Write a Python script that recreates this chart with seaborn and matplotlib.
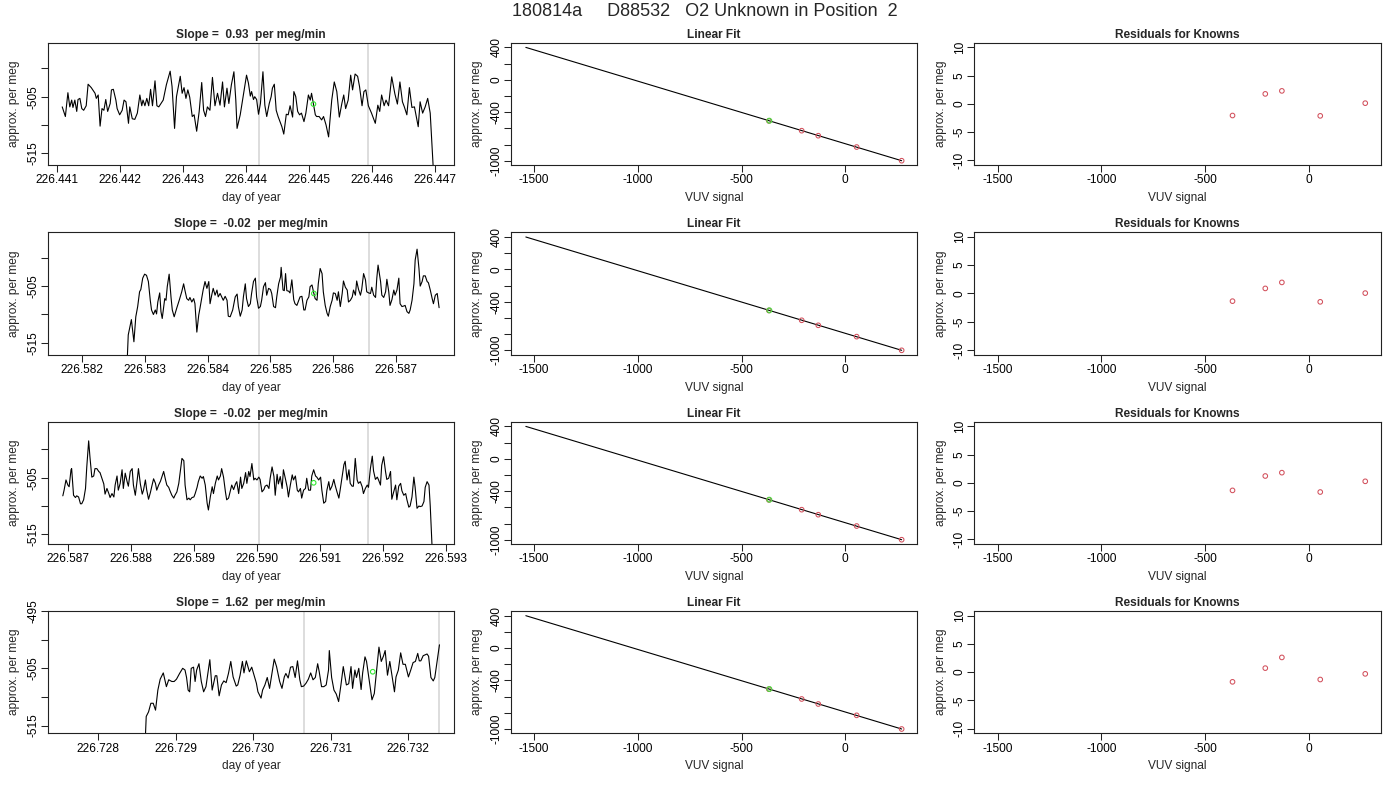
import numpy as np
import matplotlib
matplotlib.use("Agg")
import matplotlib.pyplot as plt
import seaborn as sns
from matplotlib.ticker import MultipleLocator, FixedLocator, FuncFormatter, FormatStrFormatter

# ---- time series panels: time given as offset from a base day, in 1e-5 day ----
ts1_base = 226.441
ts1_dt = [
    9, 14, 18, 21, 24, 26, 29, 32, 34, 37,
    40, 43, 47, 50, 55, 61, 63, 66, 69, 72,
    75, 78, 81, 85, 87, 90, 94, 96, 100, 104,
    107, 110, 114, 116, 120, 124, 128, 132, 135, 137,
    140, 143, 146, 149, 152, 156, 159, 162, 169, 174,
    180, 183, 187, 190, 196, 199, 202, 205, 208, 211,
    215, 218, 222, 226, 230, 233, 236, 239, 243, 247,
    251, 255, 259, 263, 266, 270, 273, 277, 281, 284,
    286, 291, 293, 298, 301, 304, 307, 309, 312, 314,
    317, 320, 323, 327, 330, 333, 337, 340, 342, 345,
    348, 351, 357, 360, 364, 367, 370, 374, 376, 379,
    382, 385, 388, 392, 395, 399, 402, 404, 407, 410,
    412, 416, 420, 423, 427, 431, 433, 436, 440, 444,
    448, 452, 455, 458, 462, 466, 469, 473, 477, 480,
    484, 487, 490, 494, 499, 505, 509, 512, 515, 519,
    522, 526, 531, 536, 540, 544, 548, 551, 555, 559,
    563, 567, 573, 576, 580, 584, 588, 592, 598]
ts1_val = [
    -506.8, -508.5, -504.3, -506.8, -505.6, -506.9, -505.6, -507.6, -505.5, -505.3,
    -507.1, -507.4, -506.6, -502.8, -503.4, -504.4, -505.3, -504.7, -510.2, -507.1,
    -507.4, -505.5, -507.6, -506.2, -503.8, -503.7, -505.6, -507.1, -508.2, -507.4,
    -505.6, -505.9, -509.7, -506.8, -508.9, -509.0, -507.9, -504.7, -506.6, -505.6,
    -506.6, -505.3, -506.6, -503.7, -506.6, -502.2, -506.6, -506.8, -505.6, -502.9,
    -500.5, -503.2, -510.6, -505.0, -501.4, -504.4, -503.4, -505.3, -503.8, -505.1,
    -508.5, -508.2, -511.1, -507.6, -502.5, -507.4, -508.5, -506.8, -507.4, -501.6,
    -506.6, -504.4, -506.5, -502.4, -506.8, -503.5, -506.2, -502.9, -500.6, -505.6,
    -510.6, -508.2, -506.8, -503.2, -501.2, -502.6, -504.9, -504.1, -505.5, -505.0,
    -505.5, -508.1, -506.2, -500.6, -506.5, -508.5, -506.2, -505.0, -503.5, -502.8,
    -507.4, -508.5, -510.3, -511.6, -508.1, -508.2, -506.6, -508.6, -504.1, -505.0,
    -507.6, -508.2, -507.9, -509.4, -507.9, -504.7, -505.6, -504.4, -506.3, -508.2,
    -508.5, -508.5, -509.1, -508.5, -510.0, -512.1, -509.4, -505.6, -502.4, -504.1,
    -508.6, -506.2, -504.7, -507.1, -505.6, -501.2, -503.8, -501.0, -501.4, -503.2,
    -506.6, -504.1, -503.8, -506.6, -507.9, -509.7, -506.5, -507.6, -504.7, -506.6,
    -505.6, -506.6, -501.5, -504.5, -506.3, -502.4, -505.9, -506.8, -508.2, -503.4,
    -506.9, -506.8, -510.3, -505.9, -507.9, -506.8, -505.3, -507.9, -520.0]

ts2_base = 226.582
ts2_dt = [
    72, 74, 79, 83, 86, 89, 92, 94, 97, 100,
    103, 106, 109, 111, 114, 117, 119, 121, 124, 126,
    128, 132, 134, 136, 139, 142, 144, 147, 151, 155,
    159, 162, 164, 167, 170, 172, 175, 178, 180, 183,
    186, 188, 193, 196, 199, 202, 204, 207, 209, 212,
    215, 217, 220, 223, 225, 228, 231, 233, 236, 240,
    244, 247, 249, 252, 255, 257, 260, 262, 265, 268,
    270, 273, 276, 278, 281, 284, 286, 289, 292, 294,
    297, 300, 302, 305, 308, 310, 313, 316, 317, 320,
    322, 324, 326, 329, 331, 334, 337, 339, 342, 345,
    347, 350, 353, 355, 358, 361, 363, 366, 369, 371,
    374, 376, 379, 382, 384, 387, 390, 392, 395, 398,
    400, 403, 406, 408, 411, 414, 416, 419, 422, 424,
    427, 430, 432, 435, 437, 440, 443, 445, 448, 451,
    453, 456, 459, 461, 464, 467, 469, 471, 475, 477,
    480, 483, 485, 488, 490, 493, 496, 498, 501, 504,
    506, 509, 512, 514, 517, 520, 522, 525, 528, 530,
    533, 536, 538, 541, 543, 546, 549, 551, 554, 557,
    559, 562, 565, 568]
ts2_val = [
    -519.0, -513.6, -510.9, -514.8, -510.4, -508.6, -506.0, -505.6, -503.6, -502.9,
    -503.1, -504.2, -507.5, -509.2, -510.0, -509.2, -509.9, -507.8, -506.2, -509.5,
    -510.7, -507.2, -507.5, -505.1, -502.9, -507.0, -509.2, -510.4, -508.9, -507.5,
    -506.0, -504.6, -505.7, -507.2, -507.5, -507.0, -507.8, -507.2, -508.1, -513.1,
    -510.1, -508.9, -505.7, -504.2, -505.4, -504.2, -508.1, -506.4, -505.4, -506.6,
    -505.7, -506.9, -506.3, -507.0, -507.5, -506.8, -507.5, -510.3, -510.4, -509.2,
    -506.9, -506.4, -508.6, -510.3, -509.2, -506.9, -504.6, -507.2, -508.6, -508.1,
    -506.3, -504.2, -503.6, -506.9, -508.9, -508.6, -507.5, -505.1, -504.4, -506.6,
    -505.4, -505.6, -506.3, -508.6, -508.8, -506.9, -504.6, -503.4, -501.7, -505.7,
    -505.8, -502.8, -505.8, -505.9, -506.2, -503.9, -507.4, -508.1, -508.4, -507.5,
    -506.9, -506.8, -509.2, -509.2, -507.5, -506.9, -505.1, -504.8, -506.3, -507.2,
    -507.5, -504.6, -501.9, -502.8, -506.0, -508.4, -509.8, -510.3, -508.6, -507.5,
    -506.2, -506.3, -507.5, -506.0, -508.6, -506.3, -504.1, -505.2, -505.7, -507.8,
    -507.5, -506.9, -505.7, -506.6, -504.1, -505.6, -506.6, -505.6, -502.8, -503.9,
    -506.0, -506.2, -506.3, -505.2, -506.6, -507.0, -503.6, -501.3, -504.2, -506.6,
    -507.0, -506.0, -503.8, -506.0, -508.4, -507.4, -505.7, -506.6, -505.7, -503.6,
    -508.1, -508.6, -508.5, -508.4, -509.5, -509.8, -509.2, -507.5, -504.6, -500.4,
    -498.5, -501.9, -505.0, -504.2, -503.2, -503.2, -504.2, -504.4, -505.7, -507.2,
    -508.1, -506.6, -506.3, -508.8]

ts3_base = 226.587
ts3_dt = [
    -8, -6, -3, 0, 2, 5, 6, 9, 12, 14,
    17, 20, 22, 25, 28, 30, 33, 35, 38, 41,
    43, 46, 49, 51, 54, 57, 59, 62, 65, 67,
    70, 73, 75, 78, 80, 83, 86, 88, 91, 94,
    96, 99, 102, 104, 107, 110, 112, 115, 118, 120,
    123, 125, 128, 131, 133, 136, 139, 141, 144, 147,
    149, 152, 155, 157, 160, 162, 165, 168, 170, 173,
    176, 178, 181, 184, 186, 189, 192, 194, 197, 200,
    202, 205, 207, 210, 213, 215, 218, 221, 223, 226,
    229, 231, 234, 237, 239, 242, 244, 247, 250, 252,
    255, 258, 260, 263, 266, 268, 271, 274, 276, 279,
    282, 284, 287, 289, 292, 295, 297, 300, 303, 305,
    308, 311, 313, 316, 319, 321, 324, 327, 329, 332,
    334, 337, 340, 342, 345, 348, 350, 353, 356, 358,
    361, 364, 366, 369, 371, 374, 377, 379, 382, 385,
    387, 390, 393, 395, 398, 401, 403, 406, 409, 411,
    414, 416, 419, 422, 424, 427, 430, 432, 435, 438,
    440, 443, 446, 448, 451, 453, 456, 459, 461, 464,
    467, 469, 472, 475, 477, 480, 483, 485, 488, 491,
    493, 496, 498, 501, 504, 506, 509, 512, 514, 517,
    520, 522, 525, 528, 530, 533, 536, 538, 541, 543,
    546, 549, 551, 554, 557, 559, 562, 565, 567, 570,
    573, 575, 579]
ts3_val = [
    -508.2, -507.2, -505.4, -506.3, -506.6, -503.6, -503.4, -508.1, -508.5, -508.2,
    -508.4, -509.6, -509.6, -508.9, -506.9, -503.1, -498.5, -501.3, -504.9, -504.7,
    -503.4, -503.4, -503.9, -504.1, -505.1, -506.1, -507.9, -506.9, -507.8, -508.5,
    -507.8, -508.4, -506.3, -504.7, -507.2, -506.0, -503.6, -506.9, -504.2, -505.7,
    -506.5, -503.9, -503.4, -506.3, -508.1, -505.4, -503.4, -506.1, -507.9, -507.2,
    -505.4, -507.1, -508.8, -507.6, -506.6, -505.2, -506.0, -507.2, -506.3, -505.6,
    -504.9, -503.9, -505.4, -506.3, -506.7, -507.3, -508.1, -508.6, -508.1, -507.5,
    -506.0, -504.2, -501.6, -502.0, -506.3, -508.9, -508.6, -508.9, -508.5, -508.4,
    -507.8, -506.7, -505.7, -504.7, -505.1, -504.8, -506.3, -509.5, -510.7, -508.4,
    -506.6, -507.8, -506.0, -504.7, -505.4, -504.7, -503.4, -504.9, -507.5, -508.9,
    -508.6, -507.2, -506.3, -507.1, -506.1, -505.7, -507.8, -504.9, -506.9, -506.0,
    -504.1, -506.0, -503.9, -504.8, -502.5, -505.4, -505.1, -505.4, -504.9, -505.3,
    -507.5, -507.1, -506.5, -506.3, -506.9, -505.1, -503.1, -504.8, -508.1, -504.4,
    -506.1, -504.8, -506.9, -503.6, -505.1, -506.7, -508.4, -506.3, -504.5, -505.4,
    -504.7, -507.2, -507.5, -506.9, -508.6, -507.2, -506.9, -505.1, -507.2, -507.2,
    -504.7, -503.6, -504.7, -504.9, -505.4, -504.9, -507.2, -509.5, -509.2, -507.2,
    -505.7, -507.2, -506.5, -505.3, -506.3, -507.5, -508.6, -507.2, -504.9, -502.7,
    -502.1, -505.4, -503.6, -506.0, -506.5, -506.5, -501.6, -505.4, -506.0, -505.7,
    -506.6, -507.8, -506.9, -506.3, -506.7, -503.4, -501.2, -503.8, -505.3, -504.9,
    -505.4, -506.3, -502.8, -501.3, -503.9, -505.3, -505.1, -503.9, -508.8, -507.5,
    -506.3, -508.9, -506.5, -506.0, -507.3, -508.1, -507.8, -508.9, -510.2, -510.0,
    -508.4, -504.9, -506.7, -510.4, -510.0, -510.1, -510.0, -509.2, -506.7, -505.7,
    -506.3, -510.0, -520.0]

ts4_base = 226.728
ts4_dt = [
    60, 62, 65, 68, 71, 74, 77, 80, 84, 86,
    88, 91, 95, 98, 101, 105, 109, 112, 114, 116,
    118, 120, 123, 125, 127, 130, 133, 136, 139, 141,
    144, 147, 151, 153, 156, 159, 162, 165, 168, 171,
    174, 178, 180, 183, 186, 188, 191, 195, 198, 201,
    204, 206, 210, 212, 215, 218, 221, 224, 227, 230,
    234, 237, 240, 242, 245, 248, 251, 254, 257, 260,
    262, 265, 268, 271, 274, 277, 280, 283, 285, 288,
    291, 294, 297, 298, 301, 304, 307, 310, 313, 316,
    318, 320, 323, 326, 328, 331, 333, 336, 339, 341,
    344, 346, 350, 353, 356, 359, 362, 365, 368, 370,
    373, 376, 379, 382, 384, 387, 390, 393, 396, 400,
    403, 406, 409, 412, 414, 416, 419, 424, 426, 429,
    432, 434, 437, 440]
ts4_val = [
    -520.0, -513.4, -512.6, -511.1, -511.1, -512.3, -508.8, -506.9, -505.8, -507.0,
    -508.2, -507.0, -507.3, -507.3, -506.9, -505.9, -505.0, -505.3, -506.6, -508.8,
    -509.1, -505.0, -504.8, -507.3, -505.3, -504.2, -507.3, -509.1, -508.2, -506.3,
    -503.5, -508.8, -506.3, -506.3, -509.8, -507.9, -507.2, -507.5, -505.9, -503.8,
    -506.5, -508.1, -507.9, -506.2, -503.8, -505.8, -503.7, -505.6, -504.8, -506.2,
    -507.6, -509.1, -510.2, -508.8, -507.9, -506.6, -508.5, -505.9, -503.4, -504.7,
    -507.3, -508.5, -506.5, -505.9, -506.7, -504.8, -504.7, -506.6, -503.7, -507.0,
    -508.2, -508.1, -507.6, -506.9, -505.8, -507.0, -506.6, -504.2, -505.6, -508.2,
    -508.2, -507.9, -505.3, -501.9, -506.6, -508.8, -509.5, -510.8, -507.9, -504.7,
    -506.3, -507.9, -507.7, -504.7, -508.5, -505.3, -506.6, -505.0, -508.7, -505.8,
    -503.0, -503.8, -507.6, -510.5, -509.4, -505.3, -501.3, -503.8, -502.8, -501.9,
    -506.2, -503.8, -506.5, -509.1, -506.5, -505.3, -502.3, -504.3, -504.3, -506.5,
    -505.3, -504.0, -503.8, -502.4, -503.7, -503.7, -502.8, -502.5, -502.9, -506.6,
    -507.2, -506.6, -503.8, -500.9]

slopes = ["0.93", "-0.02", "-0.02", "1.62"]
# unknown sample mark on each time series (day, per meg)
dot_day = [226.44507, 226.58569, 226.59090, 226.73154]
dot_val = [-506.3, -506.3, -505.9, -505.6]
# grey markers of the averaging window
win_day = [[226.44420, 226.44594], [226.58481, 226.58656],
           [226.59003, 226.59177], [226.73065, 226.73240]]
ts_xlim = [(226.44086, 226.44730), (226.58146, 226.58792),
           (226.58668, 226.59313), (226.72735, 226.73259)]
ts_ylim = [(-517.06, -495.47), (-517.06, -495.53),
           (-516.70, -495.12), (-516.34, -495.00)]

# ---- calibration ----
fit_x = [-1540, 272]
fit_y = [400, -1000]
known_x = [-368, -210, -130, 55, 272]
known_y = [-508, -629, -691, -831, -1000]
unk_x = -366
unk_y = -506
resid = [
    [-2.06, 1.76, 2.29, -2.12, 0.12],
    [-1.36, 0.89, 1.95, -1.48, 0.06],
    [-1.33, 1.21, 1.80, -1.62, 0.27],
    [-1.71, 0.71, 2.60, -1.30, -0.30],
]
vuv_xlim = (-1613, 347)
fit_ylim = (-1053, 458)
res_ylim = (-10.8, 10.8)

title = "180814a     D88532   O2 Unknown in Position  2"

# ---- style ----
sns.set_theme(style="ticks")
plt.rcParams["font.family"] = ["Liberation Sans", "DejaVu Sans"]
plt.rcParams["axes.unicode_minus"] = False

FS = 8.6
RED = "#D2505C"
GREEN = "#55D045"
LIME = "#33E833"
MS = 11
W, H = 1400, 800
col_left = [47.7, 510.7, 974.3]
row_top = [42.7, 232.3, 421.7, 611.0]
aw, ah = 406.5, 122.3

fig = plt.figure(figsize=(14, 8), dpi=100)


def make_ax(r, c):
    l, t = col_left[c], row_top[r]
    ax = fig.add_axes([l / W, 1 - (t + ah) / H, aw / W, ah / H])
    for s in ax.spines.values():
        s.set_color("#222222")
        s.set_linewidth(0.8)
    ax.tick_params(axis="both", length=4.8, width=0.75, color="#222222",
                   labelsize=FS, labelcolor="black")
    ax.tick_params(axis="x", pad=2.0)
    ax.tick_params(axis="y", pad=1.2, labelrotation=90)
    return ax


def finish(ax, xlab, ylab, ttl):
    ax.set_title(ttl, fontsize=FS, fontweight="bold", pad=3.6)
    ax.set_xlabel(xlab, fontsize=FS)
    ax.set_ylabel(ylab, fontsize=FS)
    ax.xaxis.set_label_coords(0.5, -33.0 / ah)
    ax.xaxis.label.set_va("center")
    ax.yaxis.set_label_coords(-33.7 / aw, 0.5)
    ax.yaxis.label.set_va("center")
    plt.setp(ax.get_yticklabels(), va="center")


ts_data = [(ts1_base, ts1_dt, ts1_val), (ts2_base, ts2_dt, ts2_val),
           (ts3_base, ts3_dt, ts3_val), (ts4_base, ts4_dt, ts4_val)]

for r in range(4):
    base, dt, val = ts_data[r]
    day = base + np.asarray(dt) * 1e-5

    # time series
    ax = make_ax(r, 0)
    for d in win_day[r]:
        ax.axvline(d, color="#d3d3d3", lw=1.1, zorder=1)
    sns.lineplot(x=day, y=val, ax=ax, color="black", linewidth=0.8,
                 estimator=None, sort=False, zorder=2)
    sns.scatterplot(x=[dot_day[r]], y=[dot_val[r]], ax=ax, s=MS, marker="o",
                    facecolor="none", edgecolor=LIME, linewidth=0.8, zorder=3)
    ax.set_xlim(ts_xlim[r])
    ax.set_ylim(ts_ylim[r])
    ax.xaxis.set_major_locator(MultipleLocator(0.001))
    ax.xaxis.set_major_formatter(FormatStrFormatter("%.3f"))
    ax.yaxis.set_major_locator(MultipleLocator(5))
    ax.yaxis.set_major_formatter(FuncFormatter(
        lambda v, _: f"{v:.0f}" if round(v) % 10 == 5 else ""))
    finish(ax, "day of year", "approx. per meg",
           f"Slope =  {slopes[r]}  per meg/min")

    # linear fit
    ax = make_ax(r, 1)
    sns.lineplot(x=fit_x, y=fit_y, ax=ax, color="black", linewidth=0.8)
    sns.scatterplot(x=known_x, y=known_y, ax=ax, s=MS, marker="o",
                    facecolor="none", edgecolor=RED, linewidth=0.75, zorder=3)
    sns.scatterplot(x=[unk_x], y=[unk_y], ax=ax, s=MS, marker="o",
                    facecolor="none", edgecolor=GREEN, linewidth=1.0, zorder=4)
    ax.set_xlim(vuv_xlim)
    ax.set_ylim(fit_ylim)
    ax.xaxis.set_major_locator(FixedLocator([-1500, -1000, -500, 0]))
    ax.xaxis.set_major_formatter(FuncFormatter(lambda v, _: f"{v:.0f}"))
    ax.yaxis.set_major_locator(FixedLocator(list(range(-1000, 401, 200))))
    ax.yaxis.set_major_formatter(FuncFormatter(
        lambda v, _: f"{v:.0f}" if round(v) in (400, 0, -400, -1000) else ""))
    finish(ax, "VUV signal", "approx. per meg", "Linear Fit")

    # residuals
    ax = make_ax(r, 2)
    sns.scatterplot(x=known_x, y=resid[r], ax=ax, s=MS, marker="o",
                    facecolor="none", edgecolor=RED, linewidth=0.75)
    ax.set_xlim(vuv_xlim)
    ax.set_ylim(res_ylim)
    ax.xaxis.set_major_locator(FixedLocator([-1500, -1000, -500, 0]))
    ax.xaxis.set_major_formatter(FuncFormatter(lambda v, _: f"{v:.0f}"))
    ax.yaxis.set_major_locator(FixedLocator([-10, -5, 0, 5, 10]))
    ax.yaxis.set_major_formatter(FuncFormatter(lambda v, _: f"{v:.0f}"))
    finish(ax, "VUV signal", "approx. per meg", "Residuals for Knowns")

fig.text(705 / W, 1 - 12 / H, title, fontsize=13, ha="center", va="center")

fig.savefig("out.png", dpi=100)
